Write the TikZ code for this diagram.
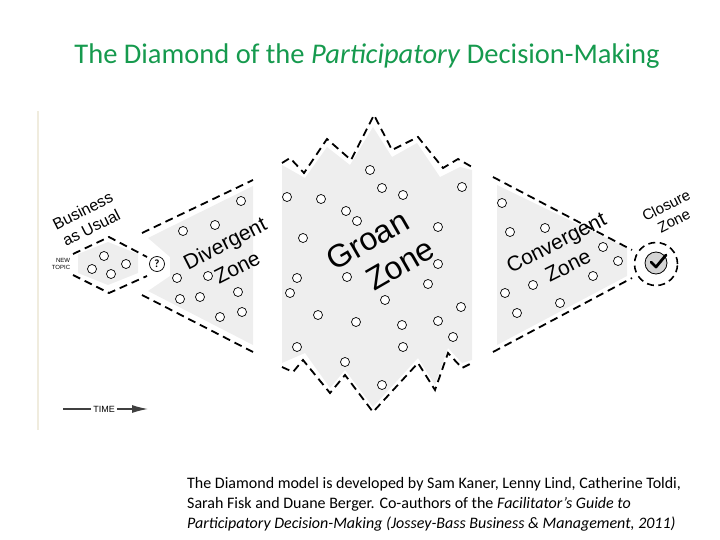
\documentclass[tikz,border=0pt]{standalone}
\usepackage{fontspec}
\setmainfont{Carlito}
\newfontfamily\diagfont{Liberation Sans}
\usetikzlibrary{arrows.meta, positioning}
\definecolor{titlegreen}{RGB}{22,154,78}
\definecolor{zonegray}{RGB}{238,238,238}
\definecolor{marginline}{RGB}{240,236,222}
\tikzset{
  x=1pt, y=-1pt,
  zone/.style={fill=zonegray, draw=none},
  fence/.style={line width=1.8pt, dash pattern=on 8pt off 5pt},
  idea/.style={circle, draw, fill=white, line width=0.7pt, minimum size=9pt, inner sep=0pt, outer sep=0pt},
  zonelabel/.style={inner sep=0pt, align=center, rotate=27},
  timeline/.style={line width=1.2pt, black!75}
}
\newcommand{\fs}[2]{\fontsize{#1}{#2}\selectfont}

\begin{document}
\begin{tikzpicture}
  \useasboundingbox (0,0) rectangle (720,540);
  \def\arrowlen{16pt}

  % title
  \node[font=\fs{28.5}{34}, text=titlegreen, inner sep=0pt] (title) at (367,56)
    {The Diamond of the \textit{Participatory} Decision-Making};

  % margin rule
  \draw[marginline, line width=1.5pt] (38,111) -- (38,430);

  % gray zones
  \fill[zone] (78,254) -- (108,242) -- (138,254) -- (138,273) -- (108,285) -- (78,273) -- cycle;
  \fill[zone] (148,238) -- (253,186) -- (253,345) -- (148,291) -- (170,276) -- (170,257) -- cycle;
  \fill[zone] (282,165) -- (305,178) -- (327,147) -- (350,165) -- (373,127) -- (392,157) -- (417,143)
    -- (440,177) -- (460,167) -- (472,170) -- (472,360) -- (462,363) -- (448,348) -- (435,385)
    -- (418,358) -- (373,407) -- (345,370) -- (330,388) -- (305,353) -- (282,363) -- cycle;
  \fill[zone] (497,185) -- (627,248) -- (627,276) -- (497,345) -- cycle;

  % dashed borders
  \draw[fence] (73,254) -- (109,237) -- (147,257);
  \draw[fence] (73,275) -- (109,293) -- (147,276);
  \draw[fence] (142,233) -- (253,180);
  \draw[fence] (142,295) -- (253,352);
  \draw[fence] (282,163) -- (290,158) -- (304,173) -- (327,139) -- (351,160) -- (374,115) -- (392,150)
    -- (418,137) -- (443,168) -- (458,159) -- (472,167);
  \draw[fence] (282,367) -- (293,372) -- (303,360) -- (330,393) -- (345,375) -- (373,412) -- (418,363)
    -- (435,390) -- (448,353) -- (462,368) -- (472,363);
  \draw[fence] (493,177) -- (632,250);
  \draw[fence] (493,352) -- (632,278);

  % ideas
  \foreach \x/\y [count=\i] in {104/256, 92/269, 111/274, 126/264}
    \node[idea] (u\i) at (\x,\y) {};
  \foreach \x/\y [count=\i] in {241/201, 183/231, 215/225, 177/278, 208/276, 180/299, 200/297,
    238/292, 220/317, 242/312}
    \node[idea] (d\i) at (\x,\y) {};
  \foreach \x/\y [count=\i] in {370/170, 382/188, 403/195, 462/187, 287/197, 321/199, 346/211,
    357/221, 303/238, 438/227, 438/264, 297/278, 347/277, 290/293, 428/284, 385/300, 318/315,
    356/322, 402/325, 438/321, 461/307, 453/337, 297/347, 403/347, 345/362, 382/385}
    \node[idea] (g\i) at (\x,\y) {};
  \foreach \x/\y [count=\i] in {502/203, 510/232, 545/228, 603/247, 618/261, 593/276, 533/285,
    505/293, 517/313, 560/303}
    \node[idea] (c\i) at (\x,\y) {};

  % question and closure
  \node[idea, minimum size=15pt, font=\rmfamily\bfseries\fs{11}{12}] (ask) at (157,264) {?};
  \node[circle, draw, line width=1.6pt, dash pattern=on 7pt off 4.5pt, minimum size=43pt, inner sep=0pt] (closure) at (656,264) {};
  \node[circle, draw, fill=black!17, line width=0.8pt, minimum size=22pt, inner sep=0pt] (done) at (656,263) {};
  \draw[line width=2.8pt, line cap=round, line join=round]
    ([shift={(-5,-1)}]done.center) -- ([shift={(0,4)}]done.center) -- ([shift={(10,-8)}]done.center);

  % labels
  \node[zonelabel, font=\diagfont\fs{16}{19}] (bau) at (87,219) {Business\\as Usual};
  \node[zonelabel, font=\diagfont\fs{21}{27}] (div) at (231,255) {Divergent\\Zone};
  \node[zonelabel, rotate=3, align=right, font=\diagfont\fs{32}{37}] (groan) at (377,256) {Groan\\Zone\hspace*{-8pt}};
  \node[zonelabel, font=\diagfont\fs{21}{26}] (conv) at (562,254) {Convergent\\Zone};
  \node[zonelabel, font=\diagfont\fs{15}{17}] (clz) at (670,213) {Closure\\Zone};
  \node[inner sep=0pt, align=right, font=\diagfont\fs{6}{7.5}] (topic) at (61,264) {NEW\\TOPIC};

  % time
  \node[inner sep=2pt, font=\diagfont\fs{9}{10}] (time) at (104,409) {TIME};
  \coordinate (tstart) at (63,409);
  \coordinate (tend) at (148,409);
  \draw[timeline] (tstart) -- (time.west);
  \draw[timeline, -{Latex[length=\arrowlen, width=8pt]}] (time.east) -- (tend);

  % caption
  \node[anchor=north west, inner sep=0pt, align=left, font=\fs{16}{20}] (credit) at (187,477)
    {The Diamond model is developed by Sam Kaner, Lenny Lind, Catherine Toldi,\\
     Sarah Fisk and Duane Berger. Co-authors of the \textit{Facilitator's Guide to}\\
     \textit{Participatory Decision-Making (Jossey-Bass Business \& Management, 2011)}};
\end{tikzpicture}
\end{document}
